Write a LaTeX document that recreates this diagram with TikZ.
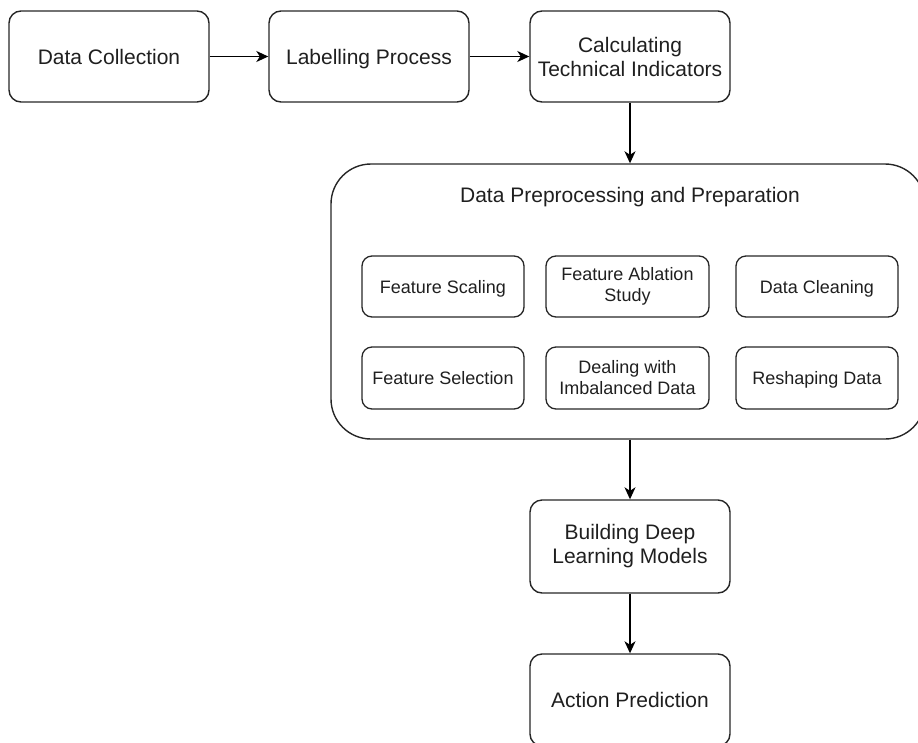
\documentclass[tikz,border=0pt]{standalone}
\usepackage{fontspec}
\setmainfont{Liberation Sans}
\usetikzlibrary{arrows.meta,calc}
\begin{document}
\begin{tikzpicture}[x=1pt,y=-1pt,
  bigbox/.style={draw=black!85, line width=1.4pt, rounded corners=12pt, minimum width=200pt, minimum height=91pt, align=center, font=\fontsize{21}{24}\selectfont, text=black!88, inner sep=2pt},
  smallbox/.style={draw=black!85, line width=1.3pt, rounded corners=10pt, minimum width=162pt, minimum height=61pt, align=center, font=\fontsize{18}{21}\selectfont, text=black!88, inner sep=2pt},
  onebig/.style={text height=15pt, text depth=0pt},
  onesmall/.style={text height=13pt, text depth=0pt},
  container/.style={draw=black!85, line width=1.4pt, rounded corners=40pt, minimum width=594pt, minimum height=275pt, inner sep=0pt},
  flow/.style={draw=black, line width=1.4pt, -{Stealth[length=12pt,width=11pt,inset=3.5pt]}}
]
\useasboundingbox (0,0) rectangle (918,742);
% top row
\node[bigbox, onebig] (dc) at (109,56.5) {Data Collection};
\node[bigbox, onebig] (lp) at (369,56.5) {Labelling Process};
\node[bigbox] (cti) at (630,56.5) {Calculating\\Technical Indicators};
% container
\node[container] (prep) at (628,301.5) {};
\node[font=\fontsize{21}{24}\selectfont, text=black!88, onebig] (ptitle) at (630,195) {Data Preprocessing and Preparation};
% inner boxes
\node[smallbox, onesmall] (fs) at (443,286.5) {Feature Scaling};
\node[smallbox, minimum width=163pt] (fa) at (627.5,286.5) {Feature Ablation\\Study};
\node[smallbox, onesmall] (dcl) at (817,286.5) {Data Cleaning};
\node[smallbox, onesmall, minimum height=62pt] (fsel) at (443,378) {Feature Selection};
\node[smallbox, minimum width=163pt, minimum height=62pt] (imb) at (627.5,378) {Dealing with\\Imbalanced Data};
\node[smallbox, onesmall, minimum height=62pt] (rd) at (817,378) {Reshaping Data};
% bottom
\node[bigbox, minimum height=93pt] (bdl) at (630,546.5) {Building Deep\\Learning Models};
\node[bigbox, onebig, minimum height=92pt] (ap) at (630,700) {Action Prediction};
% connectors
\draw[flow] (dc) -- (lp);
\draw[flow] (lp) -- (cti);
\draw[flow] (cti.south) -- (cti.south |- prep.north);
\draw[flow] (bdl.north |- prep.south) -- (bdl.north);
\draw[flow] (bdl) -- (ap);
\end{tikzpicture}
\end{document}
